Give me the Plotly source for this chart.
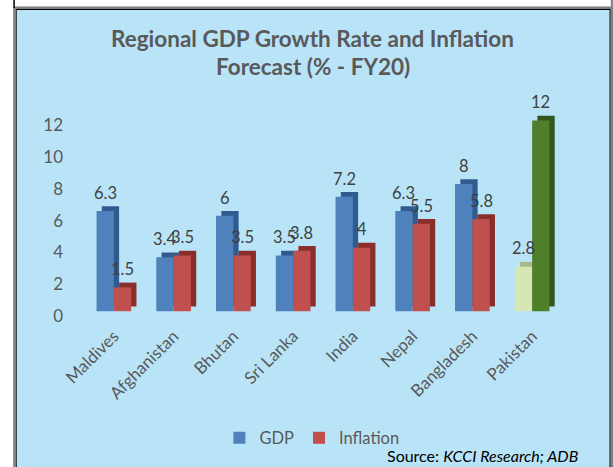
import plotly.graph_objects as go

# ---------------- data ----------------
categories = ["Maldives", "Afghanistan", "Bhutan", "Sri Lanka", "India", "Nepal", "Bangladesh", "Pakistan"]
gdp = [6.3, 3.4, 6, 3.5, 7.2, 6.3, 8, 2.8]
inflation = [1.5, 3.5, 3.5, 3.8, 4, 5.5, 5.8, 12]
y_ticks = [0, 2, 4, 6, 8, 10, 12]

# ---------------- styles ----------------
W, H = 613, 467
L, R, T, B = 84.1, 562.1, 100, 316  # plot area in px
PH = B - T
FONT = "Lato, 'Open Sans', sans-serif"
GREY = "#595959"
BG = "#B9E4F8"

highlight = "Pakistan"
gdp_front = ["#D6E6B4" if c == highlight else "#4F81BD" for c in categories]
gdp_side = ["#A7B98A" if c == highlight else "#2F5B8E" for c in categories]
inf_front = ["#4F7F2B" if c == highlight else "#C0504D" for c in categories]
inf_side = ["#34581C" if c == highlight else "#8A2E2B" for c in categories]

BW = 0.29      # bar width (category units)
DX = 0.088     # 3D depth shift (category units)
FLOOR = 0.3    # 3D floor lift (value units)
DEPTH = 0.3    # 3D rise (value units)


def px(x):
    return (x - L) / (R - L)


def py(y):
    return (B - y) / PH


fig = go.Figure()

fig.add_trace(go.Bar(x=categories, y=gdp, base=FLOOR + DEPTH, offset=-BW + DX, width=BW,
                     marker=dict(color=gdp_side, line=dict(width=0)), showlegend=False,
                     hoverinfo="skip"))
fig.add_trace(go.Bar(x=categories, y=gdp, base=FLOOR, offset=-BW, width=BW, name="GDP",
                     marker=dict(color=gdp_front, line=dict(width=0))))
fig.add_trace(go.Bar(x=categories, y=inflation, base=FLOOR + DEPTH, offset=DX, width=BW,
                     marker=dict(color=inf_side, line=dict(width=0)), showlegend=False,
                     hoverinfo="skip"))
fig.add_trace(go.Bar(x=categories, y=inflation, base=FLOOR, offset=0, width=BW, name="Inflation",
                     marker=dict(color=inf_front, line=dict(width=0))))

# data labels
bar_px = BW * (R - L) / len(categories)
annotations = []
for c, g, f in zip(categories, gdp, inflation):
    annotations.append(dict(x=c, y=g, xref="x", yref="y", text=f"{g:g}", showarrow=False,
                            xshift=-bar_px / 2, yshift=23, yanchor="middle",
                            font=dict(family=FONT, size=16.5, color="#404040")))
    annotations.append(dict(x=c, y=f, xref="x", yref="y", text=f"{f:g}", showarrow=False,
                            xshift=bar_px / 2, yshift=23, yanchor="middle",
                            font=dict(family=FONT, size=16.5, color="#404040")))

# title
annotations.append(dict(x=px(313), y=py(38), xref="paper", yref="paper", showarrow=False,
                        text="<b>Regional GDP Growth Rate and Inflation</b>", xanchor="center",
                        yanchor="middle", font=dict(family=FONT, size=22.5, color=GREY)))
annotations.append(dict(x=px(313), y=py(66.5), xref="paper", yref="paper", showarrow=False,
                        text="<b>Forecast (% - FY20)</b>", xanchor="center",
                        yanchor="middle", font=dict(family=FONT, size=22.5, color=GREY)))
# source
annotations.append(dict(x=px(580), y=py(455), xref="paper", yref="paper", showarrow=False,
                        text="Source: <i>KCCI Research; ADB</i>", xanchor="right",
                        yanchor="middle", font=dict(family=FONT, size=16, color="#000000")))

shapes = [
    dict(type="rect", xref="paper", yref="paper", x0=px(16.2), x1=px(610.2), y0=py(475), y1=py(9.5),
         fillcolor=BG, line=dict(color="#000000", width=1.2), layer="below"),
    dict(type="rect", xref="paper", yref="paper", x0=px(14.5), x1=px(612), y0=py(480), y1=py(7.8),
         fillcolor="rgba(0,0,0,0)", line=dict(color="#7F7F7F", width=2.4), layer="below"),
    dict(type="line", xref="paper", yref="paper", x0=px(14.2), x1=px(14.2), y0=py(0), y1=py(8),
         line=dict(color="#000000", width=1.5), layer="below"),
    dict(type="line", xref="paper", yref="paper", x0=px(612), x1=px(612), y0=py(0), y1=py(8),
         line=dict(color="#7F7F7F", width=2), layer="below"),
]

fig.update_layout(
    width=W, height=H,
    margin=dict(l=L, r=W - R, t=T, b=H - B, pad=0),
    paper_bgcolor="white", plot_bgcolor="rgba(0,0,0,0)",
    barmode="overlay",
    showlegend=True,
    legend=dict(orientation="h", x=px(312), xanchor="center", y=py(438), yanchor="middle",
                font=dict(family=FONT, size=16.5, color=GREY), bgcolor="rgba(0,0,0,0)",
                itemwidth=30, traceorder="normal"),
    annotations=annotations,
    shapes=shapes,
    xaxis=dict(type="category", showgrid=False, zeroline=False, showline=False, ticks="",
               tickangle=-45, tickfont=dict(family=FONT, size=17, color=GREY),
               range=[-0.5, len(categories) - 0.5], ticklabelstandoff=6),
    yaxis=dict(range=[0, PH / 15.9], tickvals=y_ticks, showgrid=False, zeroline=False,
               showline=False, ticks="", tickfont=dict(family=FONT, size=17, color=GREY),
               ticklabelstandoff=20),
    font=dict(family=FONT),
)

fig.write_html("out.html", config={"displayModeBar": False},
               post_script="document.body.style.margin='0';document.body.style.overflow='hidden';")
